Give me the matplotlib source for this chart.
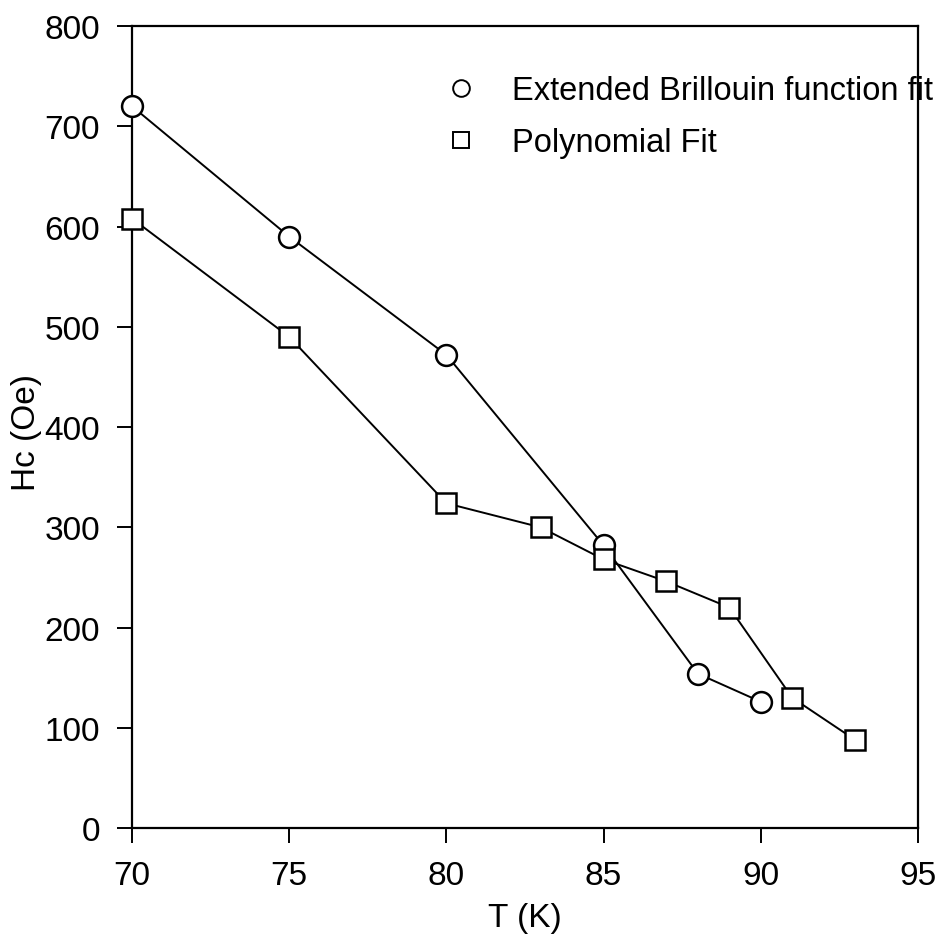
import matplotlib.pyplot as plt
from matplotlib.lines import Line2D

# Extended Brillouin function fit
t_bril = [70, 75, 80, 85, 88, 90]
hc_bril = [720, 590, 472, 282, 154, 126]

# Polynomial fit
t_poly = [70, 75, 80, 83, 85, 87, 89, 91, 93]
hc_poly = [608, 490, 324, 300, 268, 246, 220, 130, 88]

plt.rcParams['font.family'] = ['Liberation Sans', 'DejaVu Sans']
plt.rcParams['font.size'] = 24

fig = plt.figure(figsize=(9.43, 9.53), dpi=100)
ax = fig.add_axes([0.140, 0.130, 0.8335, 0.8416])

ax.plot(t_bril, hc_bril, '-o', color='black', lw=1.4, markersize=15,
        markerfacecolor='white', markeredgewidth=1.8, zorder=3, clip_on=False)
ax.plot(t_poly, hc_poly, '-s', color='black', lw=1.4, markersize=14,
        markerfacecolor='white', markeredgewidth=1.8, zorder=3, clip_on=False)

ax.set_xlim(70, 95)
ax.set_ylim(0, 800)
ax.set_xticks(range(70, 96, 5))
ax.set_yticks(range(0, 801, 100))
ax.tick_params(direction='out', length=11, width=1.4, pad=12,
               top=False, right=False)
for s in ax.spines.values():
    s.set_linewidth(1.6)

ax.set_xlabel('T (K)', labelpad=8)
ax.set_ylabel('Hc (Oe)')
ax.yaxis.set_label_coords(-0.115, 0.495)

handles = [
    Line2D([], [], ls='none', marker='o', markersize=12, color='black',
           markerfacecolor='white', markeredgewidth=1.4),
    Line2D([], [], ls='none', marker='s', markersize=11, color='black',
           markerfacecolor='white', markeredgewidth=1.4),
]
fig.legend(handles, ['Extended Brillouin function fit', 'Polynomial Fit'],
           loc='upper left', bbox_to_anchor=(445 / 943, 0.920),
           frameon=False, handlelength=1.0, handletextpad=1.06,
           borderpad=0, borderaxespad=0, labelspacing=0.65, fontsize=23.5)

fig.savefig('out.png', dpi=100)
